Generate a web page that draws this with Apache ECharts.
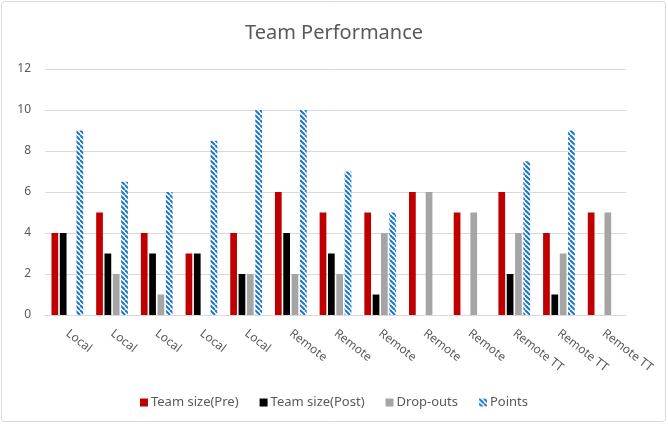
<!DOCTYPE html>
<html>
<head>
<meta charset="utf-8">
<script src="https://cdn.jsdelivr.net/npm/echarts@6/dist/echarts.min.js"></script>
<style>
  html, body { margin: 0; padding: 0; background: #fff; }
  #chart { width: 668px; height: 426px; }
</style>
</head>
<body>
<div id="chart"></div>
<script>
// Team groups along the x axis
const categories = ['Local', 'Local', 'Local', 'Local', 'Local',
  'Remote', 'Remote', 'Remote', 'Remote', 'Remote',
  'Remote TT', 'Remote TT', 'Remote TT'];

const teamSizePre  = [4, 5, 4, 3, 4, 6, 5, 5, 6, 5, 6, 4, 5];
const teamSizePost = [4, 3, 3, 3, 2, 4, 3, 1, 0, 0, 2, 1, 0];
const dropOuts     = [0, 2, 1, 0, 2, 2, 2, 4, 6, 5, 4, 3, 5];
const points       = [9, 6.5, 6, 8.5, 10, 10, 7, 5, 0, 0, 7.5, 9, 0];

const yTicks = { min: 0, max: 12, interval: 2 };

// Diagonal blue/white stripe fill for the Points series
function stripePattern() {
  const s = 5;
  const c = document.createElement('canvas');
  c.width = s; c.height = s;
  const ctx = c.getContext('2d');
  ctx.fillStyle = '#ffffff';
  ctx.fillRect(0, 0, s, s);
  ctx.strokeStyle = '#1a75c9';
  ctx.lineWidth = 2;
  ctx.beginPath();
  for (let k = -s; k <= 2 * s; k += s) {
    ctx.moveTo(k, 0);
    ctx.lineTo(k + s, s);
  }
  ctx.stroke();
  return { image: c, repeat: 'repeat' };
}

const font = 'Noto Sans, sans-serif';
const textColor = '#595959';

const chart = echarts.init(document.getElementById('chart'), null, { renderer: 'canvas' });

chart.setOption({
  animation: false,
  backgroundColor: '#ffffff',
  title: {
    text: 'Team Performance',
    left: 'center',
    top: 18,
    textStyle: { fontFamily: font, fontSize: 20, fontWeight: 'normal', color: textColor }
  },
  graphic: [{
    type: 'rect',
    shape: { x: 1.5, y: 1.5, width: 664, height: 420, r: 3 },
    style: { fill: 'none', stroke: '#d9d9d9', lineWidth: 1 },
    silent: true
  }],
  legend: {
    bottom: 12,
    left: 'center',
    itemWidth: 8,
    itemHeight: 8,
    itemGap: 21,
    icon: 'rect',
    textStyle: { fontFamily: font, fontSize: 13, color: textColor, padding: [0, 0, 0, -2] },
    data: ['Team size(Pre)', 'Team size(Post)', 'Drop-outs', 'Points']
  },
  grid: { left: 45, right: 42, top: 69, bottom: 111 },
  xAxis: {
    type: 'category',
    data: categories,
    axisLine: { lineStyle: { color: '#d9d9d9' } },
    axisTick: { show: false },
    axisLabel: {
      rotate: -38,
      interval: 0,
      margin: 17,
      fontFamily: font,
      fontSize: 12,
      color: textColor
    }
  },
  yAxis: {
    type: 'value',
    min: yTicks.min,
    max: yTicks.max,
    interval: yTicks.interval,
    axisLine: { show: false },
    axisTick: { show: false },
    axisLabel: { fontFamily: font, fontSize: 12, color: textColor, margin: 14 },
    splitLine: { lineStyle: { color: '#d9d9d9', width: 1 } }
  },
  series: [
    { name: 'Team size(Pre)', type: 'bar', data: teamSizePre,
      barGap: '24%', barCategoryGap: '29%', itemStyle: { color: '#c00000' } },
    { name: 'Team size(Post)', type: 'bar', data: teamSizePost,
      itemStyle: { color: '#000000' } },
    { name: 'Drop-outs', type: 'bar', data: dropOuts,
      itemStyle: { color: '#a5a5a5' } },
    { name: 'Points', type: 'bar', data: points,
      itemStyle: { color: stripePattern() } }
  ]
});
</script>
</body>
</html>
